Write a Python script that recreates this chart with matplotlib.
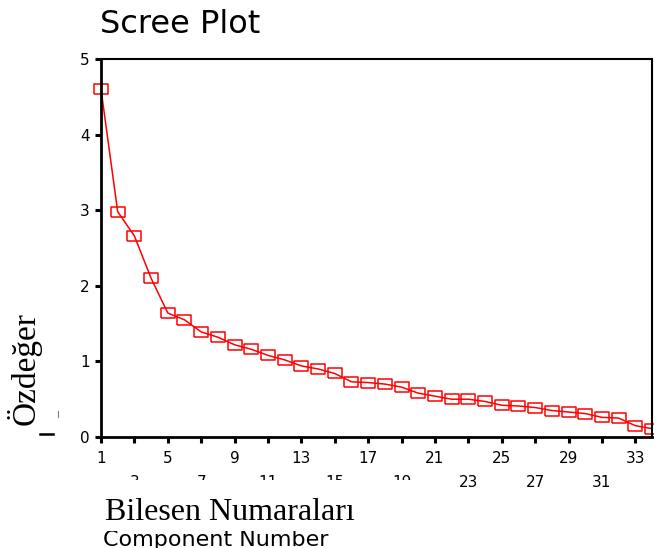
import matplotlib
matplotlib.use("Agg")
import matplotlib.pyplot as plt
from matplotlib.patches import Rectangle
from matplotlib.lines import Line2D

# values
components = list(range(1, 35))
eigenvalues = [4.60, 2.98, 2.66, 2.10, 1.64, 1.55, 1.39, 1.32, 1.22, 1.16,
               1.08, 1.02, 0.94, 0.90, 0.84, 0.73, 0.72, 0.70, 0.66, 0.58,
               0.54, 0.50, 0.50, 0.47, 0.42, 0.41, 0.39, 0.35, 0.33, 0.31,
               0.26, 0.25, 0.15, 0.11]
x_ticks = list(range(1, 34, 2))
y_ticks = [0, 1, 2, 3, 4, 5]

W, H = 654, 548
fig = plt.figure(figsize=(W / 100, H / 100), dpi=100)
ax = fig.add_axes([101 / W, (H - 437) / H, (652 - 101) / W, (437 - 59) / H])

# wide open square marker like the stretched original
box = [(-1.3, -1), (1.3, -1), (1.3, 1), (-1.3, 1), (-1.3, -1)]
ax.plot(components, eigenvalues, color="red", lw=1.1, marker=box,
        markersize=9.5, markerfacecolor="none", markeredgecolor="red",
        markeredgewidth=1.1, clip_on=False)

ax.set_xlim(1, 34)
ax.set_ylim(0, 5)
ax.set_xticks(x_ticks)
ax.set_xticklabels([str(v) if i % 2 == 0 else "\n" + str(v) for i, v in enumerate(x_ticks)])
ax.set_yticks(y_ticks)
for lbl in ax.get_xticklabels():
    lbl.set_linespacing(1.75)
ax.tick_params(direction="out", length=4, width=2.2, labelsize=11, colors="black", pad=4)
ax.tick_params(axis="x", pad=6)
for side in ["left", "bottom"]:
    ax.spines[side].set_linewidth(2)
for side in ["top", "right"]:
    ax.spines[side].set_linewidth(1.5)

fig.text(100 / W, (H - 33) / H, "Scree Plot", fontsize=23, ha="left", va="baseline")

# original english axis label, mostly hidden by the pasted turkish caption
fig.text(103 / W, 2 / H, "Component Number", fontsize=16, ha="left", va="baseline", zorder=1)
fig.patches.append(Rectangle((95 / W, (H - 531) / H), 335 / W, 51 / H,
                             transform=fig.transFigure, facecolor="white",
                             edgecolor="none", zorder=2))
fig.text(105 / W, (H - 520) / H, "Bilesen Numaraları", family="Liberation Serif",
         fontsize=23, ha="left", va="baseline", zorder=3)
fig.text(24 / W, (H - 425) / H, "Özdeğer", family="Liberation Serif",
         fontsize=24, rotation=90, ha="center", va="bottom", zorder=3)

# leftovers of the hidden "Eigenvalue" label
fig.lines.append(Line2D([40 / W, 53 / W], [(H - 434) / H] * 2, transform=fig.transFigure,
                        color="black", lw=1.8))
fig.lines.append(Line2D([58 / W, 58 / W], [(H - 411) / H, (H - 417) / H],
                        transform=fig.transFigure, color="gray", lw=0.8))

fig.savefig("out.png", dpi=100)
